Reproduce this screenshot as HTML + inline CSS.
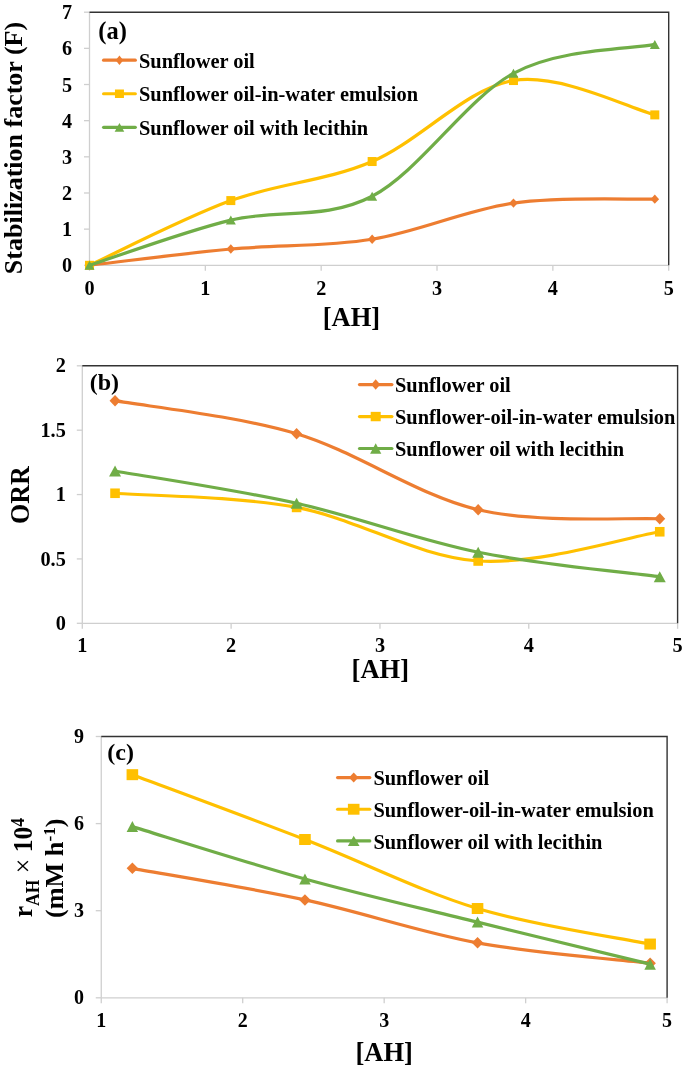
<!DOCTYPE html>
<html><head><meta charset="utf-8"><style>
html,body{margin:0;padding:0;background:#fff;width:688px;height:1071px;overflow:hidden}
svg{display:block;will-change:transform}
text{font-family:"Liberation Serif",serif;font-weight:bold;fill:#000}
</style></head><body>
<svg width="688" height="1071" viewBox="0 0 688 1071">
<rect width="688" height="1071" fill="#fff"/>
<line x1="89.5" y1="12.2" x2="89.5" y2="265.3" stroke="#CFCFCF" stroke-width="1.3"/>
<line x1="89.5" y1="265.3" x2="668.7" y2="265.3" stroke="#CFCFCF" stroke-width="1.3"/>
<line x1="84.0" y1="265.30" x2="89.5" y2="265.30" stroke="#CFCFCF" stroke-width="1.3"/>
<line x1="84.0" y1="229.14" x2="89.5" y2="229.14" stroke="#CFCFCF" stroke-width="1.3"/>
<line x1="84.0" y1="192.99" x2="89.5" y2="192.99" stroke="#CFCFCF" stroke-width="1.3"/>
<line x1="84.0" y1="156.83" x2="89.5" y2="156.83" stroke="#CFCFCF" stroke-width="1.3"/>
<line x1="84.0" y1="120.67" x2="89.5" y2="120.67" stroke="#CFCFCF" stroke-width="1.3"/>
<line x1="84.0" y1="84.51" x2="89.5" y2="84.51" stroke="#CFCFCF" stroke-width="1.3"/>
<line x1="84.0" y1="48.36" x2="89.5" y2="48.36" stroke="#CFCFCF" stroke-width="1.3"/>
<line x1="84.0" y1="12.20" x2="89.5" y2="12.20" stroke="#CFCFCF" stroke-width="1.3"/>
<line x1="89.50" y1="265.3" x2="89.50" y2="270.8" stroke="#CFCFCF" stroke-width="1.3"/>
<line x1="205.34" y1="265.3" x2="205.34" y2="270.8" stroke="#CFCFCF" stroke-width="1.3"/>
<line x1="321.18" y1="265.3" x2="321.18" y2="270.8" stroke="#CFCFCF" stroke-width="1.3"/>
<line x1="437.02" y1="265.3" x2="437.02" y2="270.8" stroke="#CFCFCF" stroke-width="1.3"/>
<line x1="552.86" y1="265.3" x2="552.86" y2="270.8" stroke="#CFCFCF" stroke-width="1.3"/>
<line x1="668.70" y1="265.3" x2="668.70" y2="270.8" stroke="#CFCFCF" stroke-width="1.3"/>
<path d="M89.5,12.2 L668.7,12.2 L668.7,265.3" fill="none" stroke="#333333" stroke-width="1.4"/>
<text x="72.2" y="272.30" text-anchor="end" font-size="20.2" font-family="Liberation Serif" font-weight="bold">0</text>
<text x="72.2" y="236.14" text-anchor="end" font-size="20.2" font-family="Liberation Serif" font-weight="bold">1</text>
<text x="72.2" y="199.99" text-anchor="end" font-size="20.2" font-family="Liberation Serif" font-weight="bold">2</text>
<text x="72.2" y="163.83" text-anchor="end" font-size="20.2" font-family="Liberation Serif" font-weight="bold">3</text>
<text x="72.2" y="127.67" text-anchor="end" font-size="20.2" font-family="Liberation Serif" font-weight="bold">4</text>
<text x="72.2" y="91.51" text-anchor="end" font-size="20.2" font-family="Liberation Serif" font-weight="bold">5</text>
<text x="72.2" y="55.36" text-anchor="end" font-size="20.2" font-family="Liberation Serif" font-weight="bold">6</text>
<text x="72.2" y="19.20" text-anchor="end" font-size="20.2" font-family="Liberation Serif" font-weight="bold">7</text>
<text x="89.50" y="295.0" text-anchor="middle" font-size="20.2" font-family="Liberation Serif" font-weight="bold">0</text>
<text x="205.34" y="295.0" text-anchor="middle" font-size="20.2" font-family="Liberation Serif" font-weight="bold">1</text>
<text x="321.18" y="295.0" text-anchor="middle" font-size="20.2" font-family="Liberation Serif" font-weight="bold">2</text>
<text x="437.02" y="295.0" text-anchor="middle" font-size="20.2" font-family="Liberation Serif" font-weight="bold">3</text>
<text x="552.86" y="295.0" text-anchor="middle" font-size="20.2" font-family="Liberation Serif" font-weight="bold">4</text>
<text x="668.70" y="295.0" text-anchor="middle" font-size="20.2" font-family="Liberation Serif" font-weight="bold">5</text>
<path d="M89.50,265.30 C113.05,262.59 183.72,253.37 230.82,249.03 C277.93,244.69 325.04,246.92 372.15,239.27 C419.26,231.61 466.37,209.80 513.47,203.11 C560.58,196.42 631.25,199.80 654.80,199.13" fill="none" stroke="#ED7D31" stroke-width="3.2" stroke-linejoin="round" stroke-linecap="round"/>
<path d="M89.50,260.60 L93.80,265.30 L89.50,270.00 L85.20,265.30Z" fill="#ED7D31"/>
<path d="M230.82,244.33 L235.12,249.03 L230.82,253.73 L226.52,249.03Z" fill="#ED7D31"/>
<path d="M372.15,234.57 L376.45,239.27 L372.15,243.97 L367.85,239.27Z" fill="#ED7D31"/>
<path d="M513.47,198.41 L517.77,203.11 L513.47,207.81 L509.17,203.11Z" fill="#ED7D31"/>
<path d="M654.80,194.43 L659.10,199.13 L654.80,203.83 L650.50,199.13Z" fill="#ED7D31"/>
<path d="M89.50,265.30 C113.05,254.51 183.72,217.87 230.82,200.58 C277.93,183.28 325.04,181.54 372.15,161.53 C419.26,141.52 466.37,88.31 513.47,80.54 C560.58,72.76 631.25,109.16 654.80,114.89" fill="none" stroke="#FFC000" stroke-width="3.2" stroke-linejoin="round" stroke-linecap="round"/>
<rect x="85.00" y="260.80" width="9.00" height="9.00" fill="#FFC000"/>
<rect x="226.32" y="196.08" width="9.00" height="9.00" fill="#FFC000"/>
<rect x="367.65" y="157.03" width="9.00" height="9.00" fill="#FFC000"/>
<rect x="508.97" y="76.04" width="9.00" height="9.00" fill="#FFC000"/>
<rect x="650.30" y="110.39" width="9.00" height="9.00" fill="#FFC000"/>
<path d="M89.50,265.30 C113.05,257.77 183.72,231.61 230.82,220.10 C277.93,208.59 325.04,220.71 372.15,196.24 C419.26,171.77 466.37,98.62 513.47,73.31 C560.58,48.00 631.25,49.20 654.80,44.38" fill="none" stroke="#70AD47" stroke-width="3.2" stroke-linejoin="round" stroke-linecap="round"/>
<path d="M89.50,260.80 L94.50,269.80 L84.50,269.80Z" fill="#70AD47"/>
<path d="M230.82,215.60 L235.82,224.60 L225.82,224.60Z" fill="#70AD47"/>
<path d="M372.15,191.74 L377.15,200.74 L367.15,200.74Z" fill="#70AD47"/>
<path d="M513.47,68.81 L518.47,77.81 L508.47,77.81Z" fill="#70AD47"/>
<path d="M654.80,39.88 L659.80,48.88 L649.80,48.88Z" fill="#70AD47"/>
<line x1="103.6" y1="60.20" x2="135.3" y2="60.20" stroke="#ED7D31" stroke-width="3.2" stroke-linecap="round"/>
<path d="M119.45,55.40 L123.25,60.20 L119.45,65.00 L115.65,60.20Z" fill="#ED7D31"/>
<text x="139.0" y="67.60" font-size="20.4" font-family="Liberation Serif" font-weight="bold">Sunflower oil</text>
<line x1="103.6" y1="93.75" x2="135.3" y2="93.75" stroke="#FFC000" stroke-width="3.2" stroke-linecap="round"/>
<rect x="114.95" y="89.50" width="9.00" height="8.50" fill="#FFC000"/>
<text x="139.0" y="101.15" font-size="20.4" font-family="Liberation Serif" font-weight="bold">Sunflower oil-in-water emulsion</text>
<line x1="103.6" y1="127.30" x2="135.3" y2="127.30" stroke="#70AD47" stroke-width="3.2" stroke-linecap="round"/>
<path d="M119.45,122.95 L124.25,131.65 L114.65,131.65Z" fill="#70AD47"/>
<text x="139.0" y="134.70" font-size="20.4" font-family="Liberation Serif" font-weight="bold">Sunflower oil with lecithin</text>
<line x1="82.3" y1="365.8" x2="82.3" y2="623.3" stroke="#CFCFCF" stroke-width="1.3"/>
<line x1="82.3" y1="623.3" x2="677.6" y2="623.3" stroke="#CFCFCF" stroke-width="1.3"/>
<line x1="76.8" y1="623.30" x2="82.3" y2="623.30" stroke="#CFCFCF" stroke-width="1.3"/>
<line x1="76.8" y1="558.92" x2="82.3" y2="558.92" stroke="#CFCFCF" stroke-width="1.3"/>
<line x1="76.8" y1="494.55" x2="82.3" y2="494.55" stroke="#CFCFCF" stroke-width="1.3"/>
<line x1="76.8" y1="430.18" x2="82.3" y2="430.18" stroke="#CFCFCF" stroke-width="1.3"/>
<line x1="76.8" y1="365.80" x2="82.3" y2="365.80" stroke="#CFCFCF" stroke-width="1.3"/>
<line x1="82.30" y1="623.3" x2="82.30" y2="628.8" stroke="#CFCFCF" stroke-width="1.3"/>
<line x1="231.12" y1="623.3" x2="231.12" y2="628.8" stroke="#CFCFCF" stroke-width="1.3"/>
<line x1="379.95" y1="623.3" x2="379.95" y2="628.8" stroke="#CFCFCF" stroke-width="1.3"/>
<line x1="528.77" y1="623.3" x2="528.77" y2="628.8" stroke="#CFCFCF" stroke-width="1.3"/>
<line x1="677.60" y1="623.3" x2="677.60" y2="628.8" stroke="#CFCFCF" stroke-width="1.3"/>
<path d="M82.3,365.8 L677.6,365.8 L677.6,623.3" fill="none" stroke="#333333" stroke-width="1.4"/>
<text x="65.8" y="629.90" text-anchor="end" font-size="20.3" font-family="Liberation Serif" font-weight="bold">0</text>
<text x="65.8" y="565.52" text-anchor="end" font-size="20.3" font-family="Liberation Serif" font-weight="bold">0.5</text>
<text x="65.8" y="501.15" text-anchor="end" font-size="20.3" font-family="Liberation Serif" font-weight="bold">1</text>
<text x="65.8" y="436.78" text-anchor="end" font-size="20.3" font-family="Liberation Serif" font-weight="bold">1.5</text>
<text x="65.8" y="372.40" text-anchor="end" font-size="20.3" font-family="Liberation Serif" font-weight="bold">2</text>
<text x="82.30" y="652.0" text-anchor="middle" font-size="20.3" font-family="Liberation Serif" font-weight="bold">1</text>
<text x="231.12" y="652.0" text-anchor="middle" font-size="20.3" font-family="Liberation Serif" font-weight="bold">2</text>
<text x="379.95" y="652.0" text-anchor="middle" font-size="20.3" font-family="Liberation Serif" font-weight="bold">3</text>
<text x="528.77" y="652.0" text-anchor="middle" font-size="20.3" font-family="Liberation Serif" font-weight="bold">4</text>
<text x="677.60" y="652.0" text-anchor="middle" font-size="20.3" font-family="Liberation Serif" font-weight="bold">5</text>
<path d="M115.04,400.69 C145.30,406.21 236.09,415.60 296.61,433.78 C357.13,451.96 417.65,495.58 478.17,509.74 C538.70,523.90 629.48,517.25 659.74,518.75" fill="none" stroke="#ED7D31" stroke-width="3.2" stroke-linejoin="round" stroke-linecap="round"/>
<path d="M115.04,394.94 L120.54,400.69 L115.04,406.44 L109.54,400.69Z" fill="#ED7D31"/>
<path d="M296.61,428.03 L302.11,433.78 L296.61,439.53 L291.11,433.78Z" fill="#ED7D31"/>
<path d="M478.17,503.99 L483.67,509.74 L478.17,515.49 L472.67,509.74Z" fill="#ED7D31"/>
<path d="M659.74,513.00 L665.24,518.75 L659.74,524.50 L654.24,518.75Z" fill="#ED7D31"/>
<path d="M115.04,493.26 C145.30,495.62 236.09,496.14 296.61,507.42 C357.13,518.71 417.65,556.93 478.17,560.99 C538.70,565.04 629.48,536.63 659.74,531.76" fill="none" stroke="#FFC000" stroke-width="3.2" stroke-linejoin="round" stroke-linecap="round"/>
<rect x="110.24" y="488.46" width="9.60" height="9.60" fill="#FFC000"/>
<rect x="291.81" y="502.62" width="9.60" height="9.60" fill="#FFC000"/>
<rect x="473.37" y="556.19" width="9.60" height="9.60" fill="#FFC000"/>
<rect x="654.94" y="526.96" width="9.60" height="9.60" fill="#FFC000"/>
<path d="M115.04,470.99 C145.30,476.37 236.09,489.76 296.61,503.30 C357.13,516.85 417.65,540.00 478.17,552.23 C538.70,564.46 629.48,572.62 659.74,576.69" fill="none" stroke="#70AD47" stroke-width="3.2" stroke-linejoin="round" stroke-linecap="round"/>
<path d="M115.04,465.49 L121.04,476.49 L109.04,476.49Z" fill="#70AD47"/>
<path d="M296.61,497.80 L302.61,508.80 L290.61,508.80Z" fill="#70AD47"/>
<path d="M478.17,546.73 L484.17,557.73 L472.17,557.73Z" fill="#70AD47"/>
<path d="M659.74,571.19 L665.74,582.19 L653.74,582.19Z" fill="#70AD47"/>
<line x1="359.5" y1="384.60" x2="391.9" y2="384.60" stroke="#ED7D31" stroke-width="3.2" stroke-linecap="round"/>
<path d="M375.70,379.35 L380.20,384.60 L375.70,389.85 L371.20,384.60Z" fill="#ED7D31"/>
<text x="395.0" y="392.30" font-size="20.4" font-family="Liberation Serif" font-weight="bold">Sunflower oil</text>
<line x1="359.5" y1="416.55" x2="391.9" y2="416.55" stroke="#FFC000" stroke-width="3.2" stroke-linecap="round"/>
<rect x="370.70" y="411.85" width="10.00" height="9.40" fill="#FFC000"/>
<text x="395.0" y="424.25" font-size="20.4" font-family="Liberation Serif" font-weight="bold">Sunflower-oil-in-water emulsion</text>
<line x1="359.5" y1="448.50" x2="391.9" y2="448.50" stroke="#70AD47" stroke-width="3.2" stroke-linecap="round"/>
<path d="M375.70,443.25 L381.30,453.75 L370.10,453.75Z" fill="#70AD47"/>
<text x="395.0" y="456.20" font-size="20.4" font-family="Liberation Serif" font-weight="bold">Sunflower oil with lecithin</text>
<line x1="101.25" y1="736.5" x2="101.25" y2="997.8" stroke="#CFCFCF" stroke-width="1.3"/>
<line x1="101.25" y1="997.8" x2="667.1" y2="997.8" stroke="#CFCFCF" stroke-width="1.3"/>
<line x1="95.75" y1="997.80" x2="101.25" y2="997.80" stroke="#CFCFCF" stroke-width="1.3"/>
<line x1="95.75" y1="910.70" x2="101.25" y2="910.70" stroke="#CFCFCF" stroke-width="1.3"/>
<line x1="95.75" y1="823.60" x2="101.25" y2="823.60" stroke="#CFCFCF" stroke-width="1.3"/>
<line x1="95.75" y1="736.50" x2="101.25" y2="736.50" stroke="#CFCFCF" stroke-width="1.3"/>
<line x1="101.25" y1="997.8" x2="101.25" y2="1003.3" stroke="#CFCFCF" stroke-width="1.3"/>
<line x1="242.71" y1="997.8" x2="242.71" y2="1003.3" stroke="#CFCFCF" stroke-width="1.3"/>
<line x1="384.18" y1="997.8" x2="384.18" y2="1003.3" stroke="#CFCFCF" stroke-width="1.3"/>
<line x1="525.64" y1="997.8" x2="525.64" y2="1003.3" stroke="#CFCFCF" stroke-width="1.3"/>
<line x1="667.10" y1="997.8" x2="667.10" y2="1003.3" stroke="#CFCFCF" stroke-width="1.3"/>
<path d="M101.25,736.5 L667.1,736.5 L667.1,997.8" fill="none" stroke="#333333" stroke-width="1.4"/>
<text x="84.0" y="1004.00" text-anchor="end" font-size="20.0" font-family="Liberation Serif" font-weight="bold">0</text>
<text x="84.0" y="916.90" text-anchor="end" font-size="20.0" font-family="Liberation Serif" font-weight="bold">3</text>
<text x="84.0" y="829.80" text-anchor="end" font-size="20.0" font-family="Liberation Serif" font-weight="bold">6</text>
<text x="84.0" y="742.70" text-anchor="end" font-size="20.0" font-family="Liberation Serif" font-weight="bold">9</text>
<text x="101.25" y="1027.2" text-anchor="middle" font-size="20.0" font-family="Liberation Serif" font-weight="bold">1</text>
<text x="242.71" y="1027.2" text-anchor="middle" font-size="20.0" font-family="Liberation Serif" font-weight="bold">2</text>
<text x="384.18" y="1027.2" text-anchor="middle" font-size="20.0" font-family="Liberation Serif" font-weight="bold">3</text>
<text x="525.64" y="1027.2" text-anchor="middle" font-size="20.0" font-family="Liberation Serif" font-weight="bold">4</text>
<text x="667.10" y="1027.2" text-anchor="middle" font-size="20.0" font-family="Liberation Serif" font-weight="bold">5</text>
<path d="M132.37,868.37 C161.14,873.63 247.43,887.51 304.96,899.93 C362.48,912.35 420.01,932.32 477.54,942.87 C535.07,953.42 621.36,959.85 650.12,963.25" fill="none" stroke="#ED7D31" stroke-width="3.2" stroke-linejoin="round" stroke-linecap="round"/>
<path d="M132.37,862.62 L138.12,868.37 L132.37,874.12 L126.62,868.37Z" fill="#ED7D31"/>
<path d="M304.96,894.18 L310.71,899.93 L304.96,905.68 L299.21,899.93Z" fill="#ED7D31"/>
<path d="M477.54,937.12 L483.29,942.87 L477.54,948.62 L471.79,942.87Z" fill="#ED7D31"/>
<path d="M650.12,957.50 L655.87,963.25 L650.12,969.00 L644.37,963.25Z" fill="#ED7D31"/>
<path d="M132.37,774.68 C161.14,785.48 247.43,817.20 304.96,839.51 C362.48,861.82 420.01,891.10 477.54,908.52 C535.07,925.95 621.36,938.14 650.12,944.06" fill="none" stroke="#FFC000" stroke-width="3.2" stroke-linejoin="round" stroke-linecap="round"/>
<rect x="126.57" y="769.18" width="11.60" height="11.00" fill="#FFC000"/>
<rect x="299.16" y="834.01" width="11.60" height="11.00" fill="#FFC000"/>
<rect x="471.74" y="903.02" width="11.60" height="11.00" fill="#FFC000"/>
<rect x="644.32" y="938.56" width="11.60" height="11.00" fill="#FFC000"/>
<path d="M132.37,826.62 C161.14,835.34 247.43,863.02 304.96,878.94 C362.48,894.85 420.01,907.91 477.54,922.11 C535.07,936.31 621.36,957.14 650.12,964.15" fill="none" stroke="#70AD47" stroke-width="3.2" stroke-linejoin="round" stroke-linecap="round"/>
<path d="M132.37,821.12 L138.12,832.12 L126.62,832.12Z" fill="#70AD47"/>
<path d="M304.96,873.44 L310.71,884.44 L299.21,884.44Z" fill="#70AD47"/>
<path d="M477.54,916.61 L483.29,927.61 L471.79,927.61Z" fill="#70AD47"/>
<path d="M650.12,958.65 L655.87,969.65 L644.37,969.65Z" fill="#70AD47"/>
<line x1="337.6" y1="777.60" x2="369.8" y2="777.60" stroke="#ED7D31" stroke-width="3.2" stroke-linecap="round"/>
<path d="M353.70,772.60 L358.40,777.60 L353.70,782.60 L349.00,777.60Z" fill="#ED7D31"/>
<text x="373.4" y="785.30" font-size="20.4" font-family="Liberation Serif" font-weight="bold">Sunflower oil</text>
<line x1="337.6" y1="809.25" x2="369.8" y2="809.25" stroke="#FFC000" stroke-width="3.2" stroke-linecap="round"/>
<rect x="347.90" y="803.80" width="11.60" height="10.90" fill="#FFC000"/>
<text x="373.4" y="816.95" font-size="20.4" font-family="Liberation Serif" font-weight="bold">Sunflower-oil-in-water emulsion</text>
<line x1="337.6" y1="840.90" x2="369.8" y2="840.90" stroke="#70AD47" stroke-width="3.2" stroke-linecap="round"/>
<path d="M353.70,835.80 L359.50,846.00 L347.90,846.00Z" fill="#70AD47"/>
<text x="373.4" y="848.60" font-size="20.4" font-family="Liberation Serif" font-weight="bold">Sunflower oil with lecithin</text>
<text x="98.3" y="38.6" font-size="24.5" font-family="Liberation Serif" font-weight="bold">(a)</text>
<text x="89.7" y="389.5" font-size="24" font-family="Liberation Serif" font-weight="bold">(b)</text>
<text x="107.3" y="760.3" font-size="24" font-family="Liberation Serif" font-weight="bold">(c)</text>
<text x="351.5" y="325.8" text-anchor="middle" font-size="26.5" font-family="Liberation Serif" font-weight="bold">[AH]</text>
<text x="380.3" y="678.0" text-anchor="middle" font-size="26.5" font-family="Liberation Serif" font-weight="bold">[AH]</text>
<text x="384.2" y="1061.0" text-anchor="middle" font-size="26.5" font-family="Liberation Serif" font-weight="bold">[AH]</text>
<text transform="translate(22.4,148) rotate(-90)" text-anchor="middle" font-size="26" font-family="Liberation Serif" font-weight="bold">Stabilization factor (F)</text>
<text transform="translate(28.7,495.1) rotate(-90) scale(1,1.035)" text-anchor="middle" font-size="26" font-family="Liberation Serif" font-weight="bold">ORR</text>
<text transform="translate(32.2,867.6) rotate(-90) scale(1,1.03)" text-anchor="middle" font-size="25.7" font-family="Liberation Serif" font-weight="bold">r<tspan font-size="17.5" dy="6.3">AH</tspan><tspan dy="-6.3" font-weight="normal"> × </tspan>10<tspan font-size="17.5" dy="-8.4">4</tspan></text>
<text transform="translate(62.8,868.2) rotate(-90)" text-anchor="middle" font-size="26.2" font-family="Liberation Serif" font-weight="bold">(mM h<tspan font-size="17.3" dy="-8.1">-1</tspan><tspan dy="8.1">)</tspan></text>
</svg>
</body></html>
